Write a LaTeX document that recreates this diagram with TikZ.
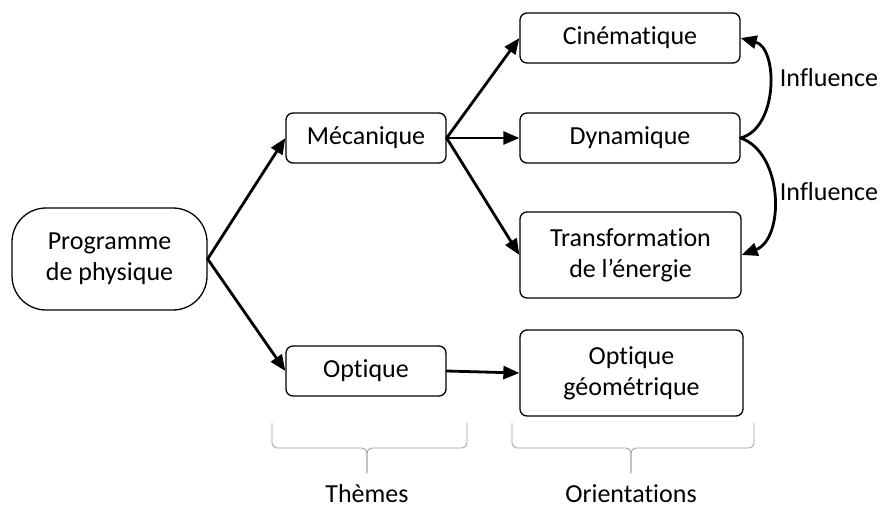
\documentclass[tikz,border=0pt]{standalone}
\usepackage{fontspec}
\setmainfont[Ligatures=NoCommon]{Carlito}
\usetikzlibrary{arrows.meta}
\begin{document}
\begin{tikzpicture}[x=1pt, y=-1pt, font=\fontsize{26}{31}\selectfont, line join=round, line cap=round, >={Triangle[length=16pt,width=13pt]}]
	\tikzset{
		boite/.style={draw, line width=1.3pt, rounded corners=7pt, align=center, inner sep=0pt},
		fleche/.style={->, line width=2.8pt},
		accolade/.style={draw=gray!80, line width=0.8pt, rounded corners=5pt}
	}
	\useasboundingbox (0,0) rectangle (883,508);
	% Programme et thèmes
	\node[boite, rounded corners=34pt, minimum width=195pt, minimum height=102pt] (prog) at (109.5,259) {Programme\\de physique};
	\node[boite, minimum width=160pt, minimum height=50pt] (meca) at (366,138) {Mécanique};
	\node[boite, minimum width=160pt, minimum height=50pt] (opt) at (366,371) {Optique};
	% Orientations
	\node[boite, minimum width=220pt, minimum height=50pt] (cine) at (630,38) {Cinématique};
	\node[boite, minimum width=220pt, minimum height=50pt] (dyna) at (630,138) {Dynamique};
	\node[boite, minimum width=221pt, minimum height=86pt] (trans) at (630.5,255) {Transformation\\de l’énergie};
	\node[boite, minimum width=223pt, minimum height=86pt] (optgeo) at (631.5,373) {Optique\\géométrique};
	% Flèches
	\draw[fleche] (prog.east) -- (meca.west);
	\draw[fleche] (prog.east) -- (opt.west);
	\foreach \n in {cine, dyna, trans}
		\draw[fleche] (meca.east) -- (\n.west);
	\draw[fleche] (opt.east) -- (optgeo.west);
	% Influences
	\draw[fleche] (dyna.east) to[bend right=75] (cine.east);
	\draw[fleche] (dyna.east) to[bend left=70] (trans.east);
	\node (infa) at (829,78) {Influence};
	\node (infb) at (829,192) {Influence};
	% Accolades
	\foreach \g/\d/\m/\nom/\txt in {272/467/367/themes/Thèmes, 512/754/631/orient/Orientations} {
		\draw[accolade] (\g,423) -- (\g,448) -- (\m,448) -- (\m,473);
		\draw[accolade] (\d,423) -- (\d,448) -- (\m,448) -- (\m,473);
		\node[anchor=base] (\nom) at (\m,502) {\txt};
	}
\end{tikzpicture}
\end{document}
